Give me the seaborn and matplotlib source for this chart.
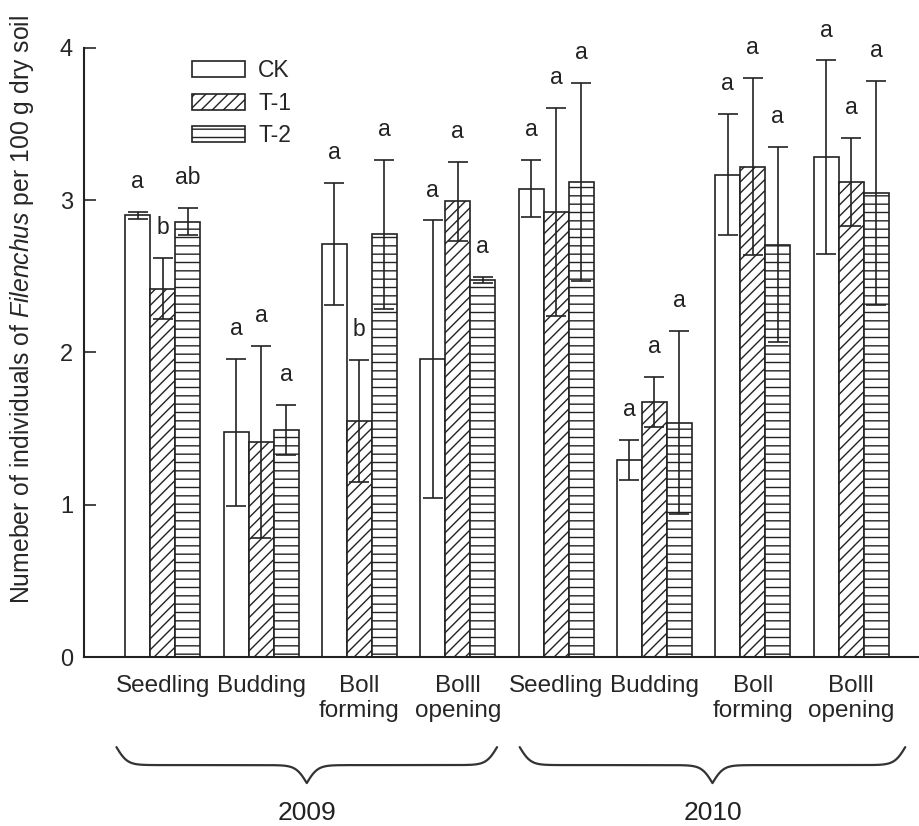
"""Filenchus abundance by growth stage, 2009-2010."""
import numpy as np
import pandas as pd
import matplotlib
matplotlib.use("Agg")
import matplotlib.pyplot as plt
import matplotlib.transforms as mtransforms
from matplotlib.patches import Patch
import seaborn as sns

YEARS = ["2009", "2010"]
STAGES = ["Seedling", "Budding", "Boll\nforming", "Bolll\nopening"]
TREATMENTS = ["CK", "T-1", "T-2"]

ck_mean = [2.90, 1.475, 2.715, 1.957, 3.077, 1.295, 3.169, 3.283]
ck_err = [0.02, 0.48, 0.40, 0.91, 0.19, 0.13, 0.40, 0.635]
t1_mean = [2.42, 1.41, 1.55, 2.993, 2.924, 1.676, 3.22, 3.118]
t1_err = [0.20, 0.63, 0.40, 0.26, 0.685, 0.165, 0.58, 0.29]
t2_mean = [2.86, 1.49, 2.775, 2.478, 3.12, 1.54, 2.707, 3.049]
t2_err = [0.09, 0.165, 0.49, 0.02, 0.65, 0.60, 0.64, 0.735]

ck_letters = ["a", "a", "a", "a", "a", "a", "a", "a"]
t1_letters = ["b", "a", "b", "a", "a", "a", "a", "a"]
t2_letters = ["ab", "a", "a", "a", "a", "a", "a", "a"]

EDGE = "#222222"
HATCHES = ["", "///", "--"]

sns.set_style("ticks")
plt.rcParams["font.family"] = ["Liberation Sans", "DejaVu Sans"]
plt.rcParams["mathtext.fontset"] = "custom"
plt.rcParams["mathtext.rm"] = "Liberation Sans"
plt.rcParams["mathtext.it"] = "Liberation Sans:italic"
plt.rcParams["hatch.linewidth"] = 1.0
plt.rcParams["hatch.color"] = EDGE


def draw_brace(ax, x0, x1, y_top, height, trans):
    x = np.linspace(x0, x1, 401)
    half = x[:201]
    beta = 18.0
    yh = 1 / (1 + np.exp(-beta * (half - half[0]))) + 1 / (1 + np.exp(-beta * (half - half[-1])))
    yy = np.concatenate([yh, yh[-2::-1]])
    ax.plot(x, y_top - (yy - 0.5) * height, transform=trans, clip_on=False,
            color="#333333", lw=1.6)


def main():
    groups = [f"{y} {s}" for y in YEARS for s in STAGES]
    means = [ck_mean, t1_mean, t2_mean]
    errs = [ck_err, t1_err, t2_err]
    letters = [ck_letters, t1_letters, t2_letters]

    rows = []
    for t, m, e, l in zip(TREATMENTS, means, errs, letters):
        for g, mv, ev, lv in zip(groups, m, e, l):
            rows.append({"group": g, "treatment": t, "value": mv, "err": ev, "letter": lv})
    df = pd.DataFrame(rows)

    fig, ax = plt.subplots(figsize=(9.2, 8.26), dpi=100)
    fig.subplots_adjust(left=0.0913, right=1.0, bottom=0.2046, top=0.9419)

    sns.barplot(data=df, x="group", y="value", hue="treatment", order=groups,
                hue_order=TREATMENTS, palette=["white"] * 3, edgecolor=EDGE,
                linewidth=1.2, errorbar=None, width=0.763, gap=0, legend=False, ax=ax)

    for cont, hatch, t in zip(ax.containers, HATCHES, TREATMENTS):
        sub = df[df["treatment"] == t].set_index("group").loc[groups]
        xs = []
        for bar in cont:
            bar.set_hatch(hatch)
            bar.set_edgecolor(EDGE)
            xs.append(bar.get_x() + bar.get_width() / 2)
        ax.errorbar(xs, sub["value"], yerr=sub["err"], fmt="none", ecolor=EDGE,
                    elinewidth=1.2, capsize=7, capthick=1.2, zorder=5)
        for x, v, e, lab in zip(xs, sub["value"], sub["err"], sub["letter"]):
            ax.text(x, v + e + 0.2, lab, ha="center", va="center", fontsize=16.5, color="#222222")

    ax.set_ylim(0, 4)
    ax.set_xlim(-0.80, 7.70)
    ax.set_yticks([0, 1, 2, 3, 4])
    ax.set_xticks(range(len(groups)))
    ax.set_xticklabels(STAGES * 2, fontsize=17.5, linespacing=1.15)
    ax.tick_params(axis="y", direction="in", length=8.5, width=1.2, labelsize=17, pad=8)
    ax.tick_params(axis="x", length=0, pad=13)
    ax.set_xlabel("")
    ax.set_ylabel(r"Numeber of individuals of $\it{Filenchus}$ per 100 g dry soil", fontsize=17.8)
    ax.yaxis.set_label_coords(-0.058, 0.571)
    sns.despine(ax=ax)
    for side in ["left", "bottom"]:
        ax.spines[side].set_linewidth(1.5)
        ax.spines[side].set_color(EDGE)

    handles = [Patch(facecolor="white", edgecolor=EDGE, hatch=h, linewidth=1.2) for h in HATCHES]
    ax.legend(handles, TREATMENTS, loc="upper left", bbox_to_anchor=(0.129, 0.982),
              frameon=False, fontsize=16.5, handlelength=2.3, handleheight=0.7,
              handletextpad=0.6, labelspacing=0.42, borderpad=0, borderaxespad=0)

    trans = mtransforms.blended_transform_factory(ax.transData, ax.transAxes)
    spans = [(-0.47, 3.40), (3.63, 7.55)]
    for year, (x0, x1) in zip(YEARS, spans):
        draw_brace(ax, x0, x1, -0.148, 0.059, trans)
        ax.text((x0 + x1) / 2, -0.256, year, transform=trans, ha="center", va="center",
                fontsize=19, color="#222222")

    fig.savefig("out.png", dpi=100)
    plt.close(fig)


if __name__ == "__main__":
    main()
